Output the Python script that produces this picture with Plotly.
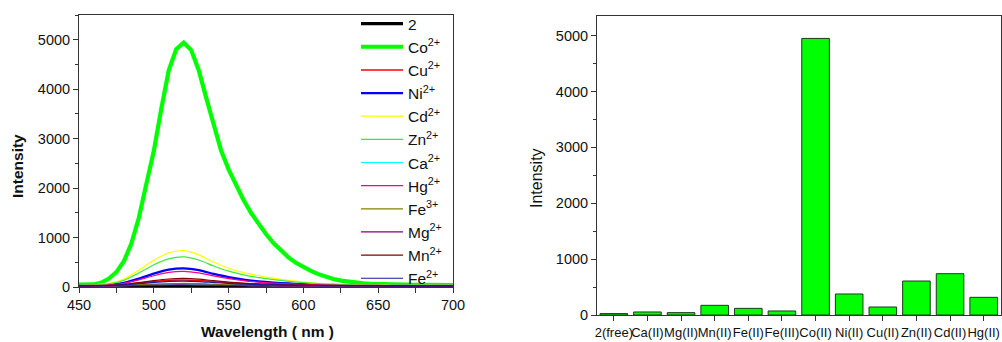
import plotly.graph_objects as go

# ---- emission spectra (left panel) ----
wl_fine = list(range(450, 701, 5))
co_int = [50, 50, 52, 90, 170, 300, 520, 880, 1400, 2080,
          2750, 3600, 4380, 4810, 4940, 4790, 4390, 3830, 3260, 2760,
          2380, 2060, 1760, 1500, 1270, 1070, 890, 730, 600, 490,
          400, 325, 260, 205, 162, 128, 103, 85, 72, 63,
          57, 53, 50, 48, 46, 45, 44, 43, 42, 41, 40]

wl = list(range(450, 701, 10))
free_int = [10, 11, 13, 15, 19, 22, 24, 25, 24, 21, 18, 16, 14, 13, 12, 12, 11, 11, 11, 10, 10, 10, 10, 10, 10, 10]
cu_int = [25, 27, 33, 48, 78, 110, 135, 143, 132, 108, 85, 68, 55, 46, 40, 35, 32, 30, 28, 27, 26, 25, 25, 25, 24, 24]
ni_int = [30, 35, 48, 85, 170, 270, 350, 376, 340, 265, 200, 150, 115, 90, 72, 58, 48, 42, 38, 35, 33, 32, 31, 30, 30, 30]
cd_int = [35, 45, 75, 160, 340, 540, 690, 739, 650, 505, 380, 290, 230, 175, 135, 100, 75, 60, 50, 45, 42, 40, 40, 39, 38, 38]
zn_int = [35, 42, 65, 135, 285, 450, 570, 608, 545, 425, 320, 245, 190, 150, 115, 88, 68, 55, 47, 43, 40, 38, 37, 36, 35, 35]
ca_int = [16, 18, 21, 27, 36, 45, 51, 54, 50, 43, 36, 31, 27, 24, 22, 20, 19, 18, 18, 17, 17, 17, 16, 16, 16, 16]
hg_int = [28, 32, 44, 75, 145, 228, 295, 316, 285, 225, 170, 128, 98, 78, 63, 52, 44, 38, 35, 32, 31, 30, 29, 29, 28, 28]
fe3_int = [18, 20, 24, 32, 45, 58, 68, 72, 67, 56, 46, 38, 33, 29, 26, 24, 22, 21, 20, 20, 19, 19, 19, 18, 18, 18]
mg_int = [14, 15, 18, 22, 29, 36, 40, 42, 39, 34, 29, 25, 22, 20, 18, 17, 16, 16, 15, 15, 15, 14, 14, 14, 14, 14]
mn_int = [25, 28, 35, 52, 90, 130, 162, 173, 158, 128, 100, 78, 62, 52, 44, 38, 34, 31, 29, 28, 27, 26, 26, 25, 25, 25]
fe2_int = [22, 25, 30, 42, 66, 92, 112, 119, 110, 90, 72, 58, 48, 41, 36, 32, 29, 27, 26, 25, 24, 24, 23, 23, 23, 23]

# ---- peak intensity per ion (right panel) ----
ions = ["2(free)", "Ca(II)", "Mg(II)", "Mn(II)", "Fe(II)", "Fe(III)",
        "Co(II)", "Ni(II)", "Cu(II)", "Zn(II)", "Cd(II)", "Hg(II)"]
peak_int = [25, 54, 42, 173, 119, 72, 4949, 376, 143, 608, 739, 316]

FONT = "Arial, Liberation Sans, sans-serif"

series = [
    ("2", wl, free_int, "#000000", 3.2),
    ("Co<sup>2+</sup>", wl_fine, co_int, "#00ff00", 4.2),
    ("Cu<sup>2+</sup>", wl, cu_int, "#ff0000", 1.5),
    ("Ni<sup>2+</sup>", wl, ni_int, "#0000ff", 2.2),
    ("Cd<sup>2+</sup>", wl, cd_int, "#ffff00", 1.2),
    ("Zn<sup>2+</sup>", wl, zn_int, "#33ee33", 1.2),
    ("Ca<sup>2+</sup>", wl, ca_int, "#00ffff", 1.2),
    ("Hg<sup>2+</sup>", wl, hg_int, "#ff0080", 1.2),
    ("Fe<sup>3+</sup>", wl, fe3_int, "#808000", 1.2),
    ("Mg<sup>2+</sup>", wl, mg_int, "#800080", 1.2),
    ("Mn<sup>2+</sup>", wl, mn_int, "#800000", 1.2),
    ("Fe<sup>2+</sup>", wl, fe2_int, "#1a1aa0", 1.2),
]

fig = go.Figure()
for name, xs, ys, color, width in series:
    fig.add_trace(go.Scatter(
        x=xs, y=ys, mode="lines", name=name,
        line=dict(color=color, width=width,
                  shape="linear" if xs is wl_fine else "spline", smoothing=0.6),
        xaxis="x", yaxis="y",
    ))

fig.add_trace(go.Bar(
    x=ions, y=peak_int, width=0.82, showlegend=False,
    marker=dict(color="#00ff00", line=dict(color="#1a3a1a", width=1)),
    xaxis="x2", yaxis="y2",
))

axis_common = dict(
    showline=True, linecolor="#333333", linewidth=1, mirror=True,
    ticks="outside", tickcolor="#333333", ticklen=5, tickwidth=1,
    showgrid=False, zeroline=False, automargin=False, tickangle=0,
    tickfont=dict(family=FONT, size=14.5, color="#111111"),
)

fig.update_layout(
    width=1002, height=342,
    margin=dict(l=0, r=0, t=0, b=0),
    paper_bgcolor="white", plot_bgcolor="white",
    font=dict(family=FONT, color="#111111"),
    xaxis=dict(domain=[79 / 1002, 453 / 1002], range=[450, 700],
               tickvals=[450, 500, 550, 600, 650, 700],
               minor=dict(tickvals=[475, 525, 575, 625, 675], ticks="outside",
                          ticklen=5, tickcolor="#333333"),
               anchor="y", **axis_common),
    yaxis=dict(domain=[1 - 287 / 342, 1 - 15 / 342], range=[0, 5500],
               tickvals=[0, 1000, 2000, 3000, 4000, 5000],
               minor=dict(tickvals=[500, 1500, 2500, 3500, 4500, 5500], ticks="outside",
                          ticklen=3, tickcolor="#333333"),
               anchor="x", **axis_common),
    xaxis2=dict(domain=[597 / 1002, 1000.5 / 1002], range=[-0.5, 11.5],
                type="category", anchor="y2",
                **{**axis_common, "tickfont": dict(family=FONT, size=13, color="#111111")}),
    yaxis2=dict(domain=[1 - 315 / 342, 1 - 16 / 342], range=[0, 5350],
                tickvals=[0, 1000, 2000, 3000, 4000, 5000],
                minor=dict(tickvals=[500, 1500, 2500, 3500, 4500], ticks="outside",
                           ticklen=3, tickcolor="#333333"),
                anchor="x2", **axis_common),
    legend=dict(x=356 / 1002, y=1 - 7 / 342, xanchor="left", yanchor="top",
                bgcolor="rgba(0,0,0,0)", borderwidth=0, itemwidth=42,
                tracegroupgap=0,
                font=dict(family=FONT, size=15.5, color="#111111")),
    annotations=[
        dict(text="<b>Wavelength ( nm )</b>", x=267 / 1002, y=1 - 331 / 342,
             xref="paper", yref="paper", xanchor="center", yanchor="middle",
             showarrow=False, font=dict(family=FONT, size=15.5, color="#111111")),
        dict(text="<b>Intensity</b>", x=17 / 1002, y=1 - 166 / 342,
             xref="paper", yref="paper", xanchor="center", yanchor="middle",
             showarrow=False, textangle=-90,
             font=dict(family=FONT, size=15.5, color="#111111")),
        dict(text="Intensity", x=536 / 1002, y=1 - 178 / 342,
             xref="paper", yref="paper", xanchor="center", yanchor="middle",
             showarrow=False, textangle=-90,
             font=dict(family=FONT, size=16, color="#111111")),
    ],
)

fig.write_html("out.html")
